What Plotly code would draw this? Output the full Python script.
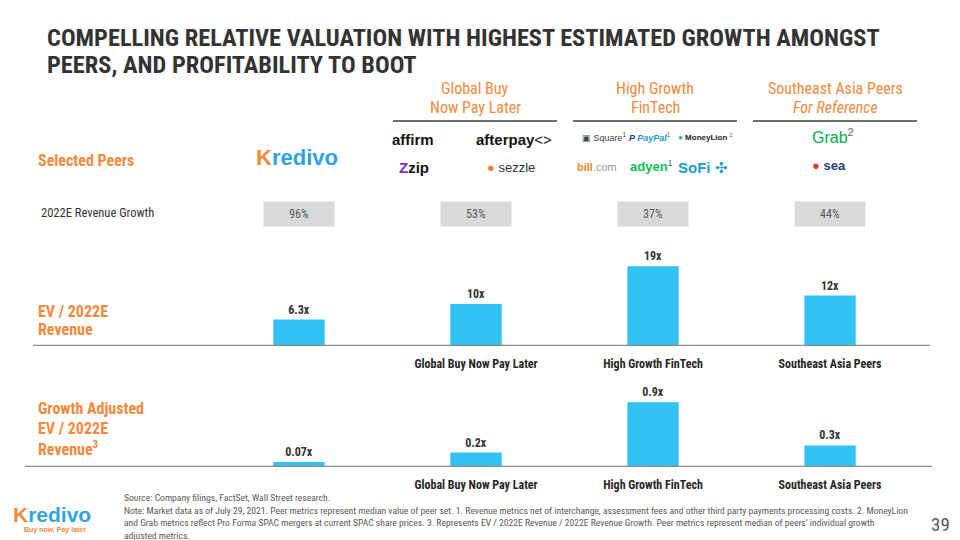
import plotly.graph_objects as go

# ---------------- data ----------------
categories = ["Kredivo", "Global Buy Now Pay Later", "High Growth FinTech", "Southeast Asia Peers"]
tick_labels = ["", "Global Buy Now Pay Later", "High Growth FinTech", "Southeast Asia Peers"]
ev_revenue = [6.3, 10, 19, 12]
ev_revenue_labels = ["6.3x", "10x", "19x", "12x"]
growth_adj = [0.07, 0.2, 0.9, 0.3]
growth_adj_labels = ["0.07x", "0.2x", "0.9x", "0.3x"]
revenue_growth = ["96%", "53%", "37%", "44%"]
group_headers = [("Global Buy", "Now Pay Later"), ("High Growth", "FinTech"), ("Southeast Asia Peers", "<i>For Reference</i>")]

FONT = "Roboto Condensed, Roboto, sans-serif"
ORANGE = "#F4893B"
BLUE = "#31C3F4"
DARK = "#333333"
GREY = "#595959"

W, H = 960, 540


def px(x):
    return x / W


def py(y):
    return 1 - y / H


xs = list(range(len(categories)))
tick_pos = [x for x, t in zip(xs, tick_labels) if t]
tick_txt = [f"<b>{t}</b>" for t in tick_labels if t]

fig = go.Figure()
fig.add_trace(go.Bar(x=xs, y=ev_revenue, text=[f"<b>{t}</b>" for t in ev_revenue_labels], textposition="outside",
                     marker=dict(color=BLUE, line=dict(width=0)), width=0.29,
                     textfont=dict(family=FONT, size=12, color=DARK), cliponaxis=False,
                     xaxis="x", yaxis="y", hoverinfo="skip"))
fig.add_trace(go.Bar(x=xs, y=growth_adj, text=[f"<b>{t}</b>" for t in growth_adj_labels], textposition="outside",
                     marker=dict(color=BLUE, line=dict(width=0)), width=0.29,
                     textfont=dict(family=FONT, size=12, color=DARK), cliponaxis=False,
                     xaxis="x2", yaxis="y2", hoverinfo="skip"))

xdom = [210.5 / W, 918.5 / W]
axis_common = dict(range=[-0.5, 3.5], tickvals=tick_pos, ticktext=tick_txt,
                   showgrid=False, zeroline=False, showline=False, ticks="", ticklabelstandoff=9,
                   tickfont=dict(family=FONT, size=12, color="#262626"))
fig.update_layout(
    width=W, height=H, margin=dict(l=0, r=0, t=0, b=0),
    paper_bgcolor="white", plot_bgcolor="white", showlegend=False,
    font=dict(family=FONT),
    xaxis=dict(domain=xdom, anchor="y", **axis_common),
    yaxis=dict(domain=[py(346), py(250)], range=[0, 96 / 4.2], visible=False),
    xaxis2=dict(domain=xdom, anchor="y2", **axis_common),
    yaxis2=dict(domain=[py(467), py(380)], range=[0, 87 / 72.0], visible=False),
)

shapes = []
# baselines
shapes.append(dict(type="line", xref="paper", yref="y", x0=px(33), x1=px(930), y0=0, y1=0,
                   line=dict(color="#8C8C8C", width=2.5)))
shapes.append(dict(type="line", xref="paper", yref="y2", x0=px(25), x1=px(932), y0=0, y1=0,
                   line=dict(color="#8C8C8C", width=2.5)))
# header underlines
header_centers = [475, 655, 835]
for c in header_centers:
    shapes.append(dict(type="line", xref="paper", yref="paper", x0=px(c - 82), x1=px(c + 82),
                       y0=py(121), y1=py(121), line=dict(color="#404040", width=1.3)))
fig.update_layout(shapes=shapes)

ann = []


def add(text, x, y, size, color=DARK, xanchor="left", yanchor="middle", **kw):
    ann.append(dict(text=text, x=px(x), y=py(y), xref="paper", yref="paper", showarrow=False,
                    xanchor=xanchor, yanchor=yanchor,
                    font=dict(family=kw.pop("family", FONT), size=size, color=color), **kw))


# title
add("<b>COMPELLING RELATIVE VALUATION WITH HIGHEST ESTIMATED GROWTH AMONGST</b>", 45, 37, 24.4, DARK)
add("<b>PEERS, AND PROFITABILITY TO BOOT</b>", 45, 65, 24.4, DARK)

# group headers
for c, (l1, l2) in zip(header_centers, group_headers):
    add(l1, c, 88, 16, ORANGE, xanchor="center")
    add(l2, c, 107, 16, ORANGE, xanchor="center")

# row labels
add("<b>Selected Peers</b>", 36, 160, 16, ORANGE)
add("2022E Revenue Growth", 39, 213, 12.5, DARK)
add("<b>EV / 2022E</b>", 36, 311, 16, ORANGE)
add("<b>Revenue</b>", 36, 329, 16, ORANGE)
add("<b>Growth Adjusted</b>", 36, 408, 16, ORANGE)
add("<b>EV / 2022E</b>", 36, 428, 16, ORANGE)
add("<b>Revenue<sup>3</sup></b>", 36, 448, 16, ORANGE)

# revenue growth pills (placed on the category axis)
for i, g in enumerate(revenue_growth):
    ann.append(dict(text=g, x=xs[i], xref="x", y=py(214), yref="paper", showarrow=False,
                    xanchor="center", yanchor="middle", width=66, height=20, bgcolor="#D9D9D9",
                    borderpad=2, font=dict(family=FONT, size=12, color=GREY)))

# logos (text stand-ins)
LOGO = "Arial, Liberation Sans, sans-serif"
add("<span style='color:#F4893B'><b>K</b></span><b>redivo</b>", 297, 157, 22, "#2FA3E0",
    xanchor="center", family=LOGO)
add("<b>affirm</b>", 413, 139, 15, "#111111", xanchor="center", family=LOGO)
add("<b>afterpay</b>&lt;&gt;", 514, 139, 15, "#111111", xanchor="center", family=LOGO)
add("<span style='color:#6B2CD9'><b>Z</b></span><b>zip</b>", 414, 167, 15, "#111111", xanchor="center", family=LOGO)
add("<span style='color:#F07F3C'>●</span> sezzle", 511, 167, 13, "#333333", xanchor="center", family=LOGO)
add("▣ Square<sup>1</sup>", 604, 137, 9, "#444444", xanchor="center", family=LOGO)
add("<b><i><span style='color:#183A8A'>P</span> PayPal</i></b><sup style='color:#666'>1</sup>", 650, 137, 9, "#1E9BD7", xanchor="center", family=LOGO)
add("<span style='color:#2CB9A1'>●</span> <b>MoneyLion</b> <sup style='color:#666'>2</sup>", 705, 137, 8, "#222222", xanchor="center", family=LOGO)
add("<b><span style='color:#F48C1E'>bill</span></b><span style='color:#999'>.com</span>", 597, 167, 11, "#999999", xanchor="center", family=LOGO)
add("<b>adyen</b><sup style='color:#666'>1</sup>", 651, 166, 13, "#0ABF53", xanchor="center", family=LOGO)
add("<b>SoFi</b> ✣", 703, 167, 15, "#1E9BD2", xanchor="center", family=LOGO)
add("Grab<sup style='color:#666'>2</sup>", 833, 136, 16, "#00B14F", xanchor="center", family=LOGO)
add("<span style='color:#E8352A'>●</span> <b>sea</b>", 829, 166, 13, "#1F3E7A", xanchor="center", family=LOGO)

# footer
add("<span style='color:#F4893B'><b>K</b></span><b>redivo</b>", 52, 514, 21, "#2FA3E0", xanchor="center", family=LOGO)
add("<b>Buy now, Pay later</b>", 55, 530, 7, ORANGE, xanchor="center", family=LOGO)
add("Source: Company filings, FactSet, Wall Street research.", 122, 497, 9.6, GREY)
notes = [
    "Note: Market data as of July 29, 2021. Peer metrics represent median value of peer set. 1. Revenue metrics net of interchange, assessment fees and other third party payments processing costs. 2. MoneyLion",
    "and Grab metrics reflect Pro Forma SPAC mergers at current SPAC share prices. 3. Represents EV / 2022E Revenue / 2022E Revenue Growth. Peer metrics represent median of peers’ individual growth",
    "adjusted metrics.",
]
for k, line in enumerate(notes):
    add(line, 122, 510 + 12.5 * k, 9.6, GREY)
add("39", 940, 524, 19, GREY, xanchor="center")

fig.update_layout(annotations=ann)
fig.write_html("out.html", post_script="document.body.style.margin='0';",
               config={"displayModeBar": False})
